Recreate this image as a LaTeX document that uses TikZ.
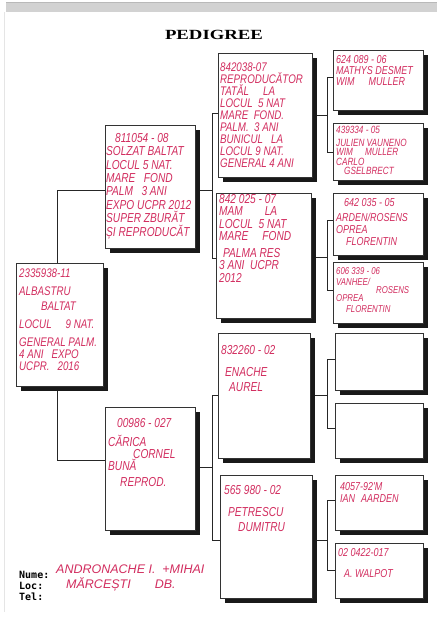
\documentclass[tikz,border=0pt]{standalone}
\usepackage{fontspec}
\setmainfont{Liberation Serif}
\newfontfamily\handfont{Liberation Sans}[FakeStretch=0.78]
\newfontfamily\handwide{Liberation Sans}
\newfontfamily\labfont{DejaVu Sans Mono}
\usetikzlibrary{shadows}
\definecolor{hand}{RGB}{210,45,95}
\pgfdeclarelayer{bg}
\pgfsetlayers{bg,main}
\tikzset{
 conn/.style={draw=black!85, line width=0.8pt},
 pedbox/.style={draw=black!80, line width=0.7pt, fill=white, rectangle, anchor=north west, inner sep=0pt,
   general shadow={fill=black!90, shadow xshift=4.5pt, shadow yshift=-4.5pt}},
 hand/.style={text=hand, inner sep=0pt, anchor=north west, align=left, font=\handfont\itshape\fontsize{13}{13.5}\selectfont},
 lab/.style={anchor=west, inner sep=0pt, font=\labfont\bfseries\fontsize{10}{12}\selectfont},
}
\newcommand\mkbox[5]{\node[pedbox, minimum width=#4pt, minimum height=#5pt] (#1) at (#2,#3) {};}
\begin{document}
\begin{tikzpicture}[x=1pt,y=-1pt]
\useasboundingbox (0,0) rectangle (439,622);
\begin{pgfonlayer}{bg}
\fill[white] (0,0) rectangle (439,622);
\fill[gray!35] (6,2) rectangle (437,12);
\draw[gray!55, line width=0.6pt] (6,2.5) -- (437,2.5);
\draw[gray!20, line width=1pt] (4,12) -- (4,612);
\end{pgfonlayer}

\node[font=\bfseries\fontsize{14}{15}\selectfont] (title) at (214,35) {\scalebox{1.34}[1]{PEDIGREE}};

% boxes
\mkbox{G1}{16}{263}{87}{123}
\mkbox{G2a}{105}{125}{90}{123}
\mkbox{G2b}{105}{407}{90}{123}
\mkbox{G3a}{218}{53}{94}{124}
\mkbox{G3b}{216}{193}{95}{125}
\mkbox{G3c}{218}{333}{92}{125}
\mkbox{G3d}{220}{475}{92}{123}
\mkbox{G4a}{333}{50}{90}{60}
\mkbox{G4b}{333}{123}{90}{57}
\mkbox{G4c}{333}{193}{90}{62}
\mkbox{G4d}{333}{262}{90}{61}
\mkbox{G4e}{335}{333}{88}{57}
\mkbox{G4f}{335}{403}{88}{55}
\mkbox{G4g}{335}{475}{88}{55}
\mkbox{G4h}{335}{543}{88}{55}

% junctions
\coordinate (j1a) at (57,190);  \coordinate (j1b) at (57,460);
\coordinate (j2a) at (212,190); \coordinate (j2a1) at (212,113); \coordinate (j2a2) at (212,258);
\coordinate (j2b) at (212,467); \coordinate (j2b1) at (212,395); \coordinate (j2b2) at (212,540);
\coordinate (j3a) at (327,115); \coordinate (j3a1) at (327,77);  \coordinate (j3a2) at (327,152);
\coordinate (j3b) at (327,257); \coordinate (j3b1) at (327,220); \coordinate (j3b2) at (327,290);
\coordinate (j3c) at (327,395); \coordinate (j3c1) at (327,359); \coordinate (j3c2) at (327,428);
\coordinate (j3d) at (327,540); \coordinate (j3d1) at (327,500); \coordinate (j3d2) at (327,570);

\begin{pgfonlayer}{bg}
\draw[conn] (G2a.west |- j1a) -- (j1a) -- (j1b) -- (G2b.west |- j1b);
\draw[conn] (G2a.east |- j2a) -- (j2a);
\draw[conn] (G3a.west |- j2a1) -- (j2a1) -- (j2a2) -- (G3b.west |- j2a2);
\draw[conn] (G2b.east |- j2b) -- (j2b);
\draw[conn] (G3c.west |- j2b1) -- (j2b1) -- (j2b2) -- (G3d.west |- j2b2);
\draw[conn] (G3a.east |- j3a) -- (j3a);
\draw[conn] (G4a.west |- j3a1) -- (j3a1) -- (j3a2) -- (G4b.west |- j3a2);
\draw[conn] (G3b.east |- j3b) -- (j3b);
\draw[conn] (G4c.west |- j3b1) -- (j3b1) -- (j3b2) -- (G4d.west |- j3b2);
\draw[conn] (G3c.east |- j3c) -- (j3c);
\draw[conn] (G4e.west |- j3c1) -- (j3c1) -- (j3c2) -- (G4f.west |- j3c2);
\draw[conn] (G3d.east |- j3d) -- (j3d);
\draw[conn] (G4g.west |- j3d1) -- (j3d1) -- (j3d2) -- (G4h.west |- j3d2);
\end{pgfonlayer}

% texts
\node[hand, font=\handfont\itshape\fontsize{12.5}{15}\selectfont] (tG1) at (19,269)
 {2335938-11\\[3pt] ALBASTRU\\ \hspace*{22pt}BALTAT\\[3pt] LOCUL\hspace{14pt}9 NAT.\\[3pt] GENERAL PALM.\\[-3pt] 4 ANI\ \ \ EXPO\\[-3pt] UCPR.\ \ \ 2016};
\node[hand, font=\handfont\itshape\fontsize{13}{13.4}\selectfont] (tG2a) at (106,133)
 {\hspace*{9pt}811054 - 08\\ SOLZAT BALTAT\\ LOCUL 5 NAT.\\ MARE\ \ \ FOND\\ PALM\ \ \ 3 ANI\\ EXPO UCPR 2012\\ SUPER ZBURĂT\\ ȘI REPRODUCĂT};
\node[hand, font=\handfont\itshape\fontsize{13}{14}\selectfont] (tG2b) at (108,418)
 {\hspace*{9pt}00986 - 027\\[5pt] CĂRICA\\[-2pt] \hspace*{25pt}CORNEL\\[-2pt] BUNĂ\\[2pt] \hspace*{12pt}REPROD.};
\node[hand, font=\handfont\itshape\fontsize{12.5}{11.9}\selectfont] (tG3a) at (220,63)
 {842038-07\\ REPRODUCĂTOR\\ TATĂL\hspace{14pt}LA\\ LOCUL\ \ 5 NAT\\ MARE\ \ FOND.\\ PALM.\ \ 3 ANI\\ BUNICUL\ \ \ LA\\ LOCUL 9 NAT.\\ GENERAL 4 ANI};
\node[hand, font=\handfont\itshape\fontsize{13}{12.5}\selectfont] (tG3b) at (219,194)
 {842 025 - 07\\ MAM\hspace{22pt}LA\\ LOCUL\ \ 5 NAT\\ MARE\hspace{14pt}FOND\\[4pt] \hspace*{4pt}PALMA RES\\ 3 ANI\ \ UCPR\\ 2012};
\node[hand, font=\handfont\itshape\fontsize{13}{15}\selectfont] (tG3c) at (221,345)
 {832260 - 02\\[7pt] \hspace*{4pt}ENACHE\\ \hspace*{8pt}AUREL};
\node[hand, font=\handfont\itshape\fontsize{13}{15}\selectfont] (tG3d) at (224,485)
 {565 980 - 02\\[7pt] \hspace*{4pt}PETRESCU\\ \hspace*{14pt}DUMITRU};
\node[hand, font=\handfont\itshape\fontsize{11.5}{11}\selectfont] (tG4a) at (336,55)
 {624 089 - 06\\ MATHYS DESMET\\ WIM\hspace{14pt}MULLER};
\node[hand, font=\handfont\itshape\fontsize{10.5}{9.6}\selectfont] (tG4b) at (336,126)
 {439334 - 05\\[3pt] JULIEN VAUNENO\\ WIM\hspace{12pt}MULLER\\ CARLO\\ \hspace*{8pt}GSELBRECT};
\node[hand, font=\handfont\itshape\fontsize{11.5}{12}\selectfont] (tG4c) at (336,198)
 {\hspace*{8pt}642 035 - 05\\[3pt] ARDEN/ROSENS\\ OPREA\\ \hspace*{10pt}FLORENTIN};
\node[hand, font=\handfont\itshape\fontsize{10}{10}\selectfont] (tG4d) at (336,267)
 {606 339 - 06\\[1pt] VANHEE/\\[-2pt] \hspace*{40pt}ROSENS\\[-2pt] OPREA\\[1pt] \hspace*{10pt}FLORENTIN};
\node[hand, font=\handfont\itshape\fontsize{11.5}{12}\selectfont] (tG4g) at (340,482)
 {4057-92'M\\ IAN\hspace{6pt}AARDEN};
\node[hand, font=\handfont\itshape\fontsize{11.5}{12}\selectfont] (tG4h) at (338,548)
 {02 0422-017\\[9pt] \hspace*{6pt}A. WALPOT};

% owner
\node[lab] (nume) at (19,575) {Nume:};
\node[lab] (loc) at (19,586) {Loc:};
\node[lab] (tel) at (19,597) {Tel:};
\node[hand, anchor=west, font=\handwide\itshape\fontsize{12.5}{13}\selectfont] (owner) at (56,569) {ANDRONACHE I.\ \ +MIHAI};
\node[hand, anchor=west, font=\handwide\itshape\fontsize{12.5}{13}\selectfont] (place) at (66,584) {MĂRCEȘTI\hspace{24pt}DB.};
\end{tikzpicture}
\end{document}
